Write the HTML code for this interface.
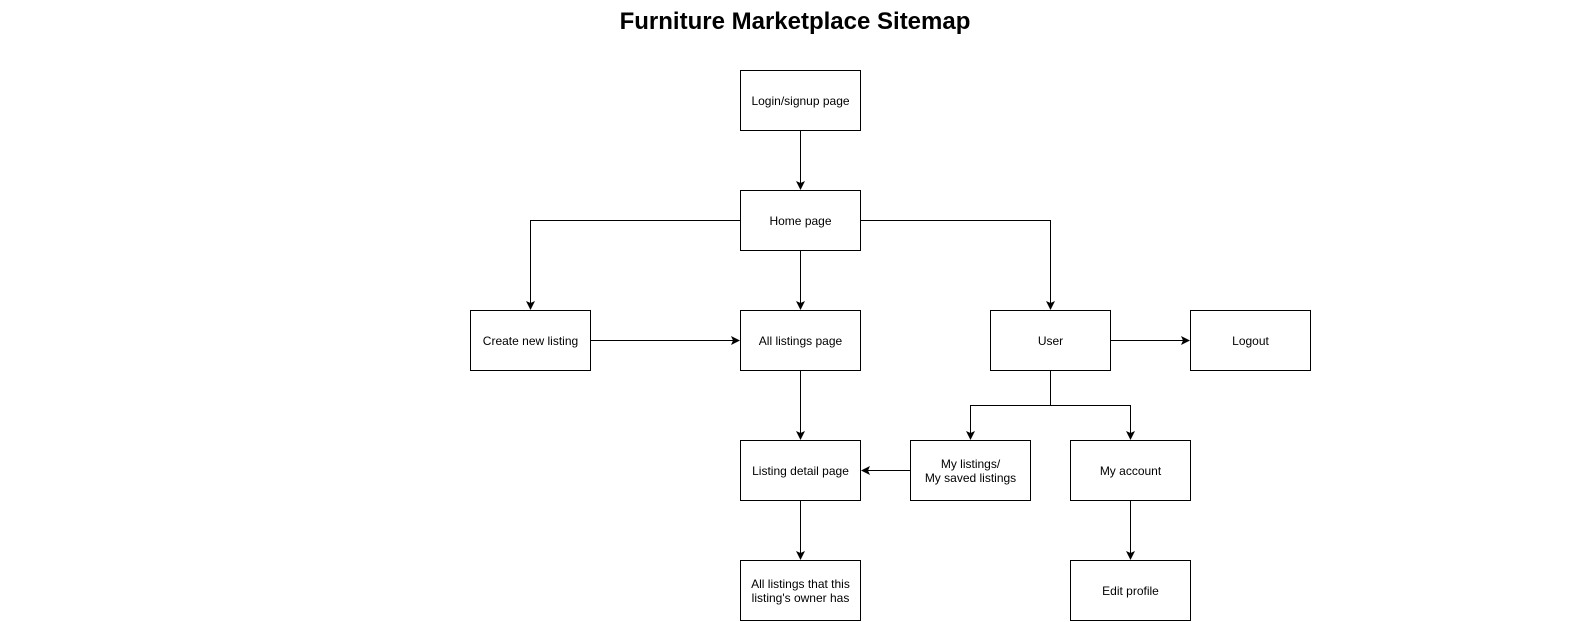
<!DOCTYPE html>
<html><head><meta charset="utf-8"><style>
html,body{margin:0;padding:0;background:#fff;}
svg{display:block;}
text{font-family:"Liberation Sans",Arial,sans-serif;}
</style></head><body>
<svg width="1591" height="622" viewBox="0 0 1591 622" xmlns="http://www.w3.org/2000/svg">
<defs><marker id="a" markerWidth="9" markerHeight="9" refX="8" refY="4.5" orient="auto" markerUnits="userSpaceOnUse"><path d="M0,0 L9,4.5 L0,9 L2,4.5 Z" fill="#000"/></marker></defs>
<text x="795" y="29" font-size="24" font-weight="bold" text-anchor="middle">Furniture Marketplace Sitemap</text>
<g fill="#fff" stroke="#000" stroke-width="1">
<rect x="740.5" y="70.5" width="120" height="60"/>
<rect x="740.5" y="190.5" width="120" height="60"/>
<rect x="470.5" y="310.5" width="120" height="60"/>
<rect x="740.5" y="310.5" width="120" height="60"/>
<rect x="990.5" y="310.5" width="120" height="60"/>
<rect x="1190.5" y="310.5" width="120" height="60"/>
<rect x="740.5" y="440.5" width="120" height="60"/>
<rect x="910.5" y="440.5" width="120" height="60"/>
<rect x="1070.5" y="440.5" width="120" height="60"/>
<rect x="740.5" y="560.5" width="120" height="60"/>
<rect x="1070.5" y="560.5" width="120" height="60"/>
</g>
<g fill="none" stroke="#000" stroke-width="1">
<path d="M800.5,130.5 V189" marker-end="url(#a)"/>
<path d="M740.5,220.5 H530.5 V309" marker-end="url(#a)"/>
<path d="M860.5,220.5 H1050.5 V309" marker-end="url(#a)"/>
<path d="M800.5,250.5 V309" marker-end="url(#a)"/>
<path d="M590.5,340.5 H739" marker-end="url(#a)"/>
<path d="M1110.5,340.5 H1189" marker-end="url(#a)"/>
<path d="M800.5,370.5 V439" marker-end="url(#a)"/>
<path d="M1050.5,370.5 V405.5 H970.5 V439" marker-end="url(#a)"/>
<path d="M1050.5,405.5 H1130.5 V439" marker-end="url(#a)"/>
<path d="M910.5,470.5 H862" marker-end="url(#a)"/>
<path d="M800.5,500.5 V559" marker-end="url(#a)"/>
<path d="M1130.5,500.5 V559" marker-end="url(#a)"/>
</g>
<g font-size="12" text-anchor="middle">
<text x="800.5" y="105">Login/signup page</text>
<text x="800.5" y="225">Home page</text>
<text x="530.5" y="345">Create new listing</text>
<text x="800.5" y="345">All listings page</text>
<text x="1050.5" y="345">User</text>
<text x="1250.5" y="345">Logout</text>
<text x="800.5" y="475">Listing detail page</text>
<text x="970.5" y="468">My listings/</text>
<text x="970.5" y="482">My saved listings</text>
<text x="1130.5" y="475">My account</text>
<text x="800.5" y="588">All listings that this</text>
<text x="800.5" y="602">listing's owner has</text>
<text x="1130.5" y="595">Edit profile</text>
</g>
</svg>
</body></html>
